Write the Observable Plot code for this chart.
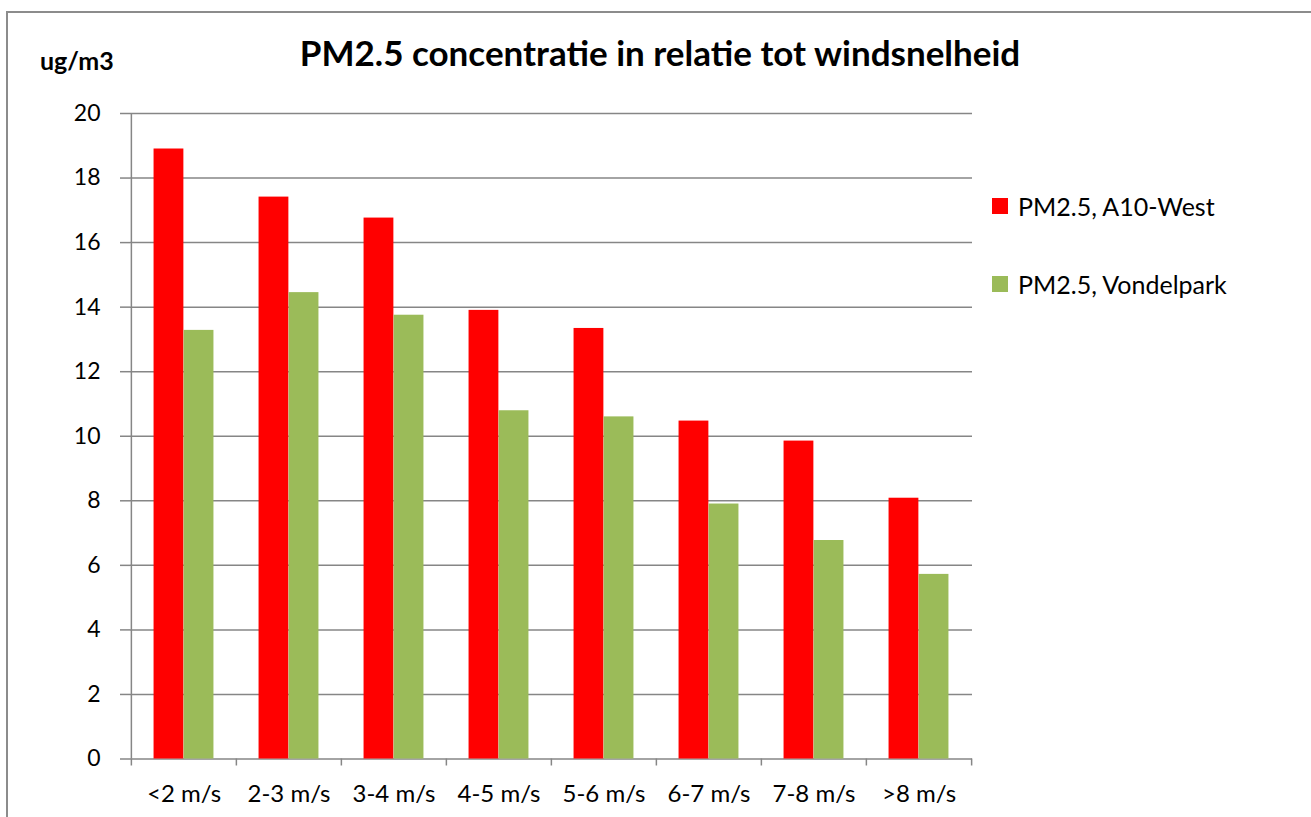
<!DOCTYPE html>
<html>
<head>
<meta charset="utf-8">
<script src="https://cdn.jsdelivr.net/npm/d3@7"></script>
<script src="https://cdn.jsdelivr.net/npm/@observablehq/plot@0.6"></script>
<style>
  html, body { margin: 0; padding: 0; background: #fff; }
  body { width: 1311px; height: 817px; position: relative; overflow: hidden; font-family: Lato, "Open Sans", sans-serif; }
  #chart { position: absolute; left: 0; top: 0; }
  .border { position: absolute; left: 6px; top: 11px; width: 1400px; height: 900px; border-left: 2px solid #8c8c8c; border-top: 2px solid #8c8c8c; }
  .title { position: absolute; left: 0; width: 1320px; top: 31px; line-height: 1.2; text-align: center; font-weight: bold; font-size: 35px; color: #000; }
  .unit { position: absolute; left: 40px; top: 45px; line-height: 1.2; font-weight: bold; font-size: 25px; color: #000; }
  .legend { position: absolute; left: 992px; top: 190px; font-size: 25px; color: #000; }
  .legend .row { display: flex; align-items: center; height: 32px; margin-bottom: 46px; }
  .legend .sw { width: 16px; height: 16px; margin-right: 10px; }
</style>
</head>
<body>
<div class="border"></div>
<div id="chart"></div>
<div class="title">PM2.5 concentratie in relatie tot windsnelheid</div>
<div class="unit">ug/m3</div>
<div class="legend" id="legend"></div>
<script>
const categories = ["<2 m/s", "2-3 m/s", "3-4 m/s", "4-5 m/s", "5-6 m/s", "6-7 m/s", "7-8 m/s", ">8 m/s"];
const seriesNames = ["PM2.5, A10-West", "PM2.5, Vondelpark"];
const seriesColors = ["#FF0000", "#9BBB59"];
const a10West = [18.90, 17.41, 16.76, 13.90, 13.34, 10.47, 9.85, 8.08];
const vondelpark = [13.28, 14.45, 13.75, 10.79, 10.60, 7.90, 6.77, 5.72];
const yTicks = [0, 2, 4, 6, 8, 10, 12, 14, 16, 18, 20];

const W = 1311, H = 817;
const mL = 130, mR = 339, mT = 113, mB = 58.5;
const bw = (W - mL - mR) / categories.length;
const barW = bw / 3.5;           // Excel gap width 150%
const gapHalf = (bw - 2 * barW) / 2;

const rowsA = categories.map((c, i) => ({category: c, value: a10West[i]}));
const rowsV = categories.map((c, i) => ({category: c, value: vondelpark[i]}));
const gray = "#868686";

const chart = Plot.plot({
  width: W,
  height: H,
  marginLeft: mL,
  marginRight: mR,
  marginTop: mT,
  marginBottom: mB,
  style: {fontFamily: "Lato, 'Open Sans', sans-serif", fontSize: "23px", color: "#000", background: "transparent"},
  x: {domain: categories, padding: 0, label: null},
  y: {domain: [0, 20], label: null},
  marks: [
    Plot.ruleY(yTicks, {stroke: gray, strokeWidth: 1.5}),
    Plot.ruleX([categories[0]], {y1: 0, y2: 20, dx: -bw / 2, stroke: gray, strokeWidth: 1.5}),
    Plot.barY(rowsA, {x: "category", y: "value", fill: seriesColors[0], insetLeft: gapHalf, insetRight: gapHalf + barW}),
    Plot.barY(rowsV, {x: "category", y: "value", fill: seriesColors[1], insetLeft: gapHalf + barW, insetRight: gapHalf}),
    Plot.axisY({ticks: yTicks, tickSize: 10, tickPadding: 20, stroke: gray, strokeWidth: 1.5, tickFormat: d => String(d), fontSize: 23}),
    Plot.axisX({tickSize: 7, dx: -bw / 2, tickFormat: () => "", stroke: gray, strokeWidth: 1.5}),
    Plot.axisX([categories[categories.length - 1]], {tickSize: 7, dx: bw / 2, tickFormat: () => "", stroke: gray, strokeWidth: 1.5}),
    Plot.axisX({tickSize: 0, tickPadding: 26, fontSize: 24})
  ]
});
document.getElementById("chart").appendChild(chart);

const legend = document.getElementById("legend");
seriesNames.forEach((name, i) => {
  const row = document.createElement("div");
  row.className = "row";
  const sw = document.createElement("div");
  sw.className = "sw";
  sw.style.background = seriesColors[i];
  const t = document.createElement("span");
  t.textContent = name;
  row.appendChild(sw);
  row.appendChild(t);
  legend.appendChild(row);
});
</script>
</body>
</html>
